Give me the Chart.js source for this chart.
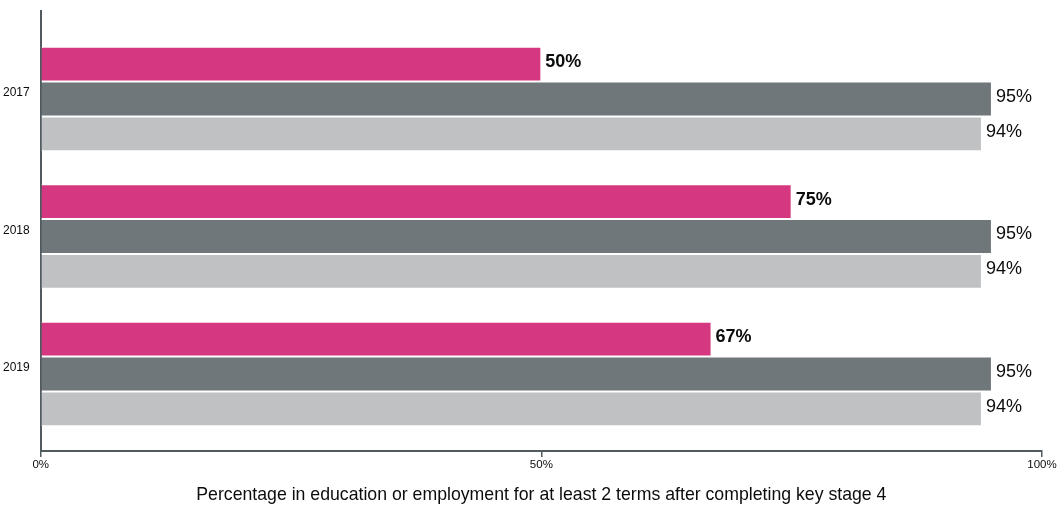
<!DOCTYPE html>
<html lang="en">

<head>
    <meta charset="UTF-8">
    <title>Education or employment after key stage 4</title>
    <script src="https://cdn.jsdelivr.net/npm/chart.js"></script>
    <style>
        body { margin: 0; background: #fff; }
        #wrap { width: 1061px; height: 510px; }
    </style>
</head>

<body>
    <div id="wrap">
        <canvas id="destChart"></canvas>
    </div>

    <script>
        // values
        var years = ['2017', '2018', '2019'];
        var groupValues = [50, 75, 67];
        var nationalValues = [95, 95, 95];
        var otherValues = [94, 94, 94];
        var xTicks = [0, 50, 100];

        function toPoints(vals) {
            return vals.map(function (v, i) { return { x: v, y: i }; });
        }

        var barLabels = {
            id: 'barLabels',
            afterDatasetsDraw: function (chart) {
                var ctx = chart.ctx;
                ctx.save();
                ctx.textBaseline = 'middle';
                ctx.textAlign = 'left';
                ctx.fillStyle = '#0b0c0c';
                chart.data.datasets.forEach(function (ds, di) {
                    var meta = chart.getDatasetMeta(di);
                    ctx.font = (di === 0 ? 'bold ' : '') + '18px "Liberation Sans", Arial, sans-serif';
                    meta.data.forEach(function (bar, i) {
                        ctx.fillText(ds.data[i].x + '%', bar.x + 4, bar.y - 2);
                    });
                });
                ctx.restore();
            }
        };

        var chart = new Chart(document.getElementById('destChart').getContext('2d'), {
            type: 'bar',
            data: {
                datasets: [{
                    label: 'Pupils in this group',
                    data: toPoints(groupValues),
                    backgroundColor: '#d53880',
                    borderColor: '#ffffff',
                    borderWidth: 1
                }, {
                    label: 'All pupils',
                    data: toPoints(nationalValues),
                    backgroundColor: '#6f777b',
                    borderColor: '#ffffff',
                    borderWidth: 1
                }, {
                    label: 'Comparison',
                    data: toPoints(otherValues),
                    backgroundColor: '#bfc1c3',
                    borderColor: '#ffffff',
                    borderWidth: 1
                }]
            },
            options: {
                indexAxis: 'y',
                responsive: true,
                maintainAspectRatio: false,
                animation: false,
                layout: { padding: { top: 11, right: 19, left: 0, bottom: 4 } },
                datasets: {
                    bar: { categoryPercentage: 0.76, barPercentage: 1 }
                },
                plugins: {
                    legend: { display: false },
                    tooltip: { enabled: false }
                },
                scales: {
                    x: {
                        type: 'linear',
                        min: 0,
                        max: 100,
                        afterBuildTicks: function (axis) {
                            axis.ticks = xTicks.map(function (v) { return { value: v }; });
                        },
                        ticks: {
                            callback: function (v) { return v + '%'; },
                            color: '#0b0c0c',
                            font: { size: 11.5, family: '"Liberation Sans", Arial, sans-serif' },
                            padding: 1,
                            maxRotation: 0
                        },
                        grid: {
                            display: true,
                            drawOnChartArea: false,
                            drawTicks: true,
                            tickLength: 6,
                            color: '#505a5f',
                            lineWidth: 1.5
                        },
                        border: { display: true, color: '#505a5f', width: 2 },
                        title: {
                            display: true,
                            text: 'Percentage in education or employment for at least 2 terms after completing key stage 4',
                            color: '#0b0c0c',
                            font: { size: 17.7, family: '"Liberation Sans", Arial, sans-serif' },
                            padding: { top: 12, bottom: 0 }
                        }
                    },
                    y: {
                        type: 'linear',
                        reverse: true,
                        offset: false,
                        min: -0.64,
                        max: 2.56,
                        afterBuildTicks: function (axis) {
                            axis.ticks = years.map(function (y, i) { return { value: i }; });
                        },
                        ticks: {
                            callback: function (v) { return years[v]; },
                            color: '#0b0c0c',
                            font: { size: 12, family: '"Liberation Sans", Arial, sans-serif' },
                            labelOffset: -6,
                            padding: 3
                        },
                        grid: { display: false, offset: false },
                        border: { display: true, color: '#505a5f', width: 2 }
                    }
                }
            },
            plugins: [barLabels]
        });
    </script>
</body>

</html>
